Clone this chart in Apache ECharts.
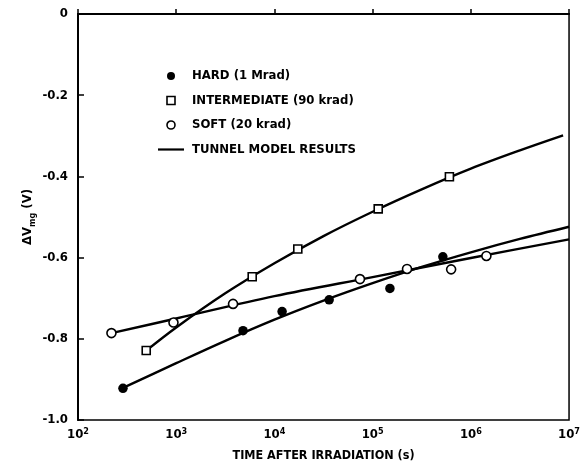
<!DOCTYPE html>
<html>
<head>
<meta charset="utf-8">
<script src="https://cdn.jsdelivr.net/npm/echarts@6/dist/echarts.min.js"></script>
<style>
  html, body { margin: 0; padding: 0; background: #fff; }
  #chart { width: 583px; height: 470px; }
</style>
</head>
<body>
<div id="chart"></div>
<script>
// Measured threshold-voltage shift vs. time after irradiation (seconds)
const hardTime = [287, 4790, 11970, 36100, 150000, 519000];
const hardDv = [-0.922, -0.780, -0.733, -0.704, -0.676, -0.598];

const interTime = [495, 5940, 17300, 114000, 605000];
const interDv = [-0.829, -0.647, -0.579, -0.480, -0.401];

const softTime = [219, 938, 3790, 74300, 224000, 630000, 1440000];
const softDv = [-0.786, -0.760, -0.714, -0.653, -0.628, -0.629, -0.596];

// Tunnel model curves
const hardModelTime = [287, 1000, 3160, 10000, 31600, 100000, 316000, 1000000, 3160000, 10000000];
const hardModelDv = [-0.921, -0.860, -0.805, -0.753, -0.706, -0.663, -0.623, -0.587, -0.554, -0.524];

const interModelTime = [495, 1000, 3160, 10000, 31600, 100000, 316000, 1000000, 3160000, 8700000];
const interModelDv = [-0.829, -0.772, -0.688, -0.614, -0.547, -0.487, -0.432, -0.381, -0.336, -0.299];

const softModelTime = [219, 1000, 10000, 100000, 1000000, 10000000];
const softModelDv = [-0.786, -0.750, -0.695, -0.648, -0.601, -0.555];

const yTicks = ['-1.0', '-0.8', '-0.6', '-0.4', '-0.2', '0'];

const names = {
  hard: 'HARD (1 Mrad)',
  inter: 'INTERMEDIATE (90 krad)',
  soft: 'SOFT (20 krad)',
  model: 'TUNNEL MODEL RESULTS'
};

const FONT = '"Liberation Sans Narrow", "DejaVu Sans Condensed", "Roboto Condensed", sans-serif';

const pairs = (xs, ys) => xs.map((x, i) => [x, ys[i]]);

const modelLine = (xs, ys) => ({
  name: names.model,
  type: 'line',
  data: pairs(xs, ys),
  smooth: 0.35,
  symbol: 'none',
  itemStyle: { color: '#000' },
  lineStyle: { color: '#000', width: 2.4 },
  z: 2
});

const chart = echarts.init(document.getElementById('chart'), null, { renderer: 'canvas' });

chart.setOption({
  animation: false,
  backgroundColor: '#fff',
  textStyle: { fontFamily: FONT, fontWeight: 'bold', color: '#000' },
  grid: {
    left: 78, right: 12, top: 14, bottom: 50,
    show: true, borderColor: '#000', borderWidth: 1.5, backgroundColor: 'transparent'
  },
  legend: {
    orient: 'vertical',
    left: 153,
    top: 64,
    itemWidth: 26,
    itemHeight: 8,
    itemGap: 10.5,
    symbolKeepAspect: true,
    data: [
      { name: names.hard, icon: 'circle', itemStyle: { color: '#000', opacity: 1 } },
      { name: names.inter, icon: 'path://M0,0L8,0L8,8L0,8Z', itemStyle: { color: '#fff', borderColor: '#000', borderWidth: 1.6 } },
      { name: names.soft, icon: 'circle', itemStyle: { color: '#fff', borderColor: '#000', borderWidth: 1.6 } },
      { name: names.model, icon: 'path://M0,0L26,0L26,2.2L0,2.2Z', itemStyle: { color: '#000', borderWidth: 0 } }
    ],
    textStyle: {
      fontFamily: FONT, fontWeight: 'bold', fontSize: 13, color: '#000',
      lineHeight: 14, padding: [0, 0, 0, 3]
    },
    selectedMode: false
  },
  xAxis: {
    type: 'log',
    logBase: 10,
    min: 100,
    max: 10000000,
    name: 'TIME AFTER IRRADIATION (s)',
    nameLocation: 'middle',
    nameGap: 29,
    nameTextStyle: { fontFamily: FONT, fontWeight: 'bold', fontSize: 12.5, color: '#000' },
    axisLine: { lineStyle: { color: '#000', width: 2 } },
    axisTick: { inside: true, length: 5, lineStyle: { color: '#000', width: 1.5 } },
    splitLine: { show: false },
    axisLabel: {
      margin: 7,
      formatter: function (v) {
        const e = Math.round(Math.log10(v));
        return '{b|10}{s|' + e + '}';
      },
      rich: {
        b: { fontFamily: FONT, fontWeight: 'bold', fontSize: 13, color: '#000', verticalAlign: 'bottom', lineHeight: 14 },
        s: { fontFamily: FONT, fontWeight: 'bold', fontSize: 9, color: '#000', verticalAlign: 'top', lineHeight: 14, padding: [0, 0, 6, 0] }
      }
    }
  },
  yAxis: {
    type: 'value',
    min: -1,
    max: 0,
    interval: 0.2,
    name: '{a|ΔV}{s|mg}{a| (V)}',
    nameLocation: 'middle',
    nameGap: 44,
    nameMoveOverlap: false,
    nameRotate: 90,
    nameTextStyle: {
      rich: {
        a: { fontFamily: FONT, fontWeight: 'bold', fontSize: 13, color: '#000', verticalAlign: 'bottom', lineHeight: 16 },
        s: { fontFamily: FONT, fontWeight: 'bold', fontSize: 9, color: '#000', verticalAlign: 'bottom', lineHeight: 16, padding: [0, 0, -3, 0] }
      }
    },
    axisLine: { show: true, lineStyle: { color: '#000', width: 2 } },
    axisTick: { show: true, inside: true, length: 6, lineStyle: { color: '#000', width: 1.5 } },
    splitLine: { show: false },
    axisLabel: {
      margin: 10,
      fontFamily: FONT, fontWeight: 'bold', fontSize: 13, color: '#000',
      formatter: function (v) {
        const idx = Math.round((v + 1) / 0.2);
        return yTicks[idx];
      }
    }
  },
  series: [
    modelLine(hardModelTime, hardModelDv),
    modelLine(interModelTime, interModelDv),
    modelLine(softModelTime, softModelDv),
    {
      name: names.hard,
      type: 'scatter',
      data: pairs(hardTime, hardDv),
      symbol: 'circle',
      symbolSize: 9.5,
      itemStyle: { color: '#000', opacity: 1 },
      z: 4
    },
    {
      name: names.inter,
      type: 'scatter',
      data: pairs(interTime, interDv),
      symbol: 'rect',
      symbolSize: 8,
      itemStyle: { color: '#fff', borderColor: '#000', borderWidth: 1.6, opacity: 1 },
      z: 4
    },
    {
      name: names.soft,
      type: 'scatter',
      data: pairs(softTime, softDv),
      symbol: 'circle',
      symbolSize: 9,
      itemStyle: { color: '#fff', borderColor: '#000', borderWidth: 1.6, opacity: 1 },
      z: 4
    }
  ]
});
</script>
</body>
</html>
